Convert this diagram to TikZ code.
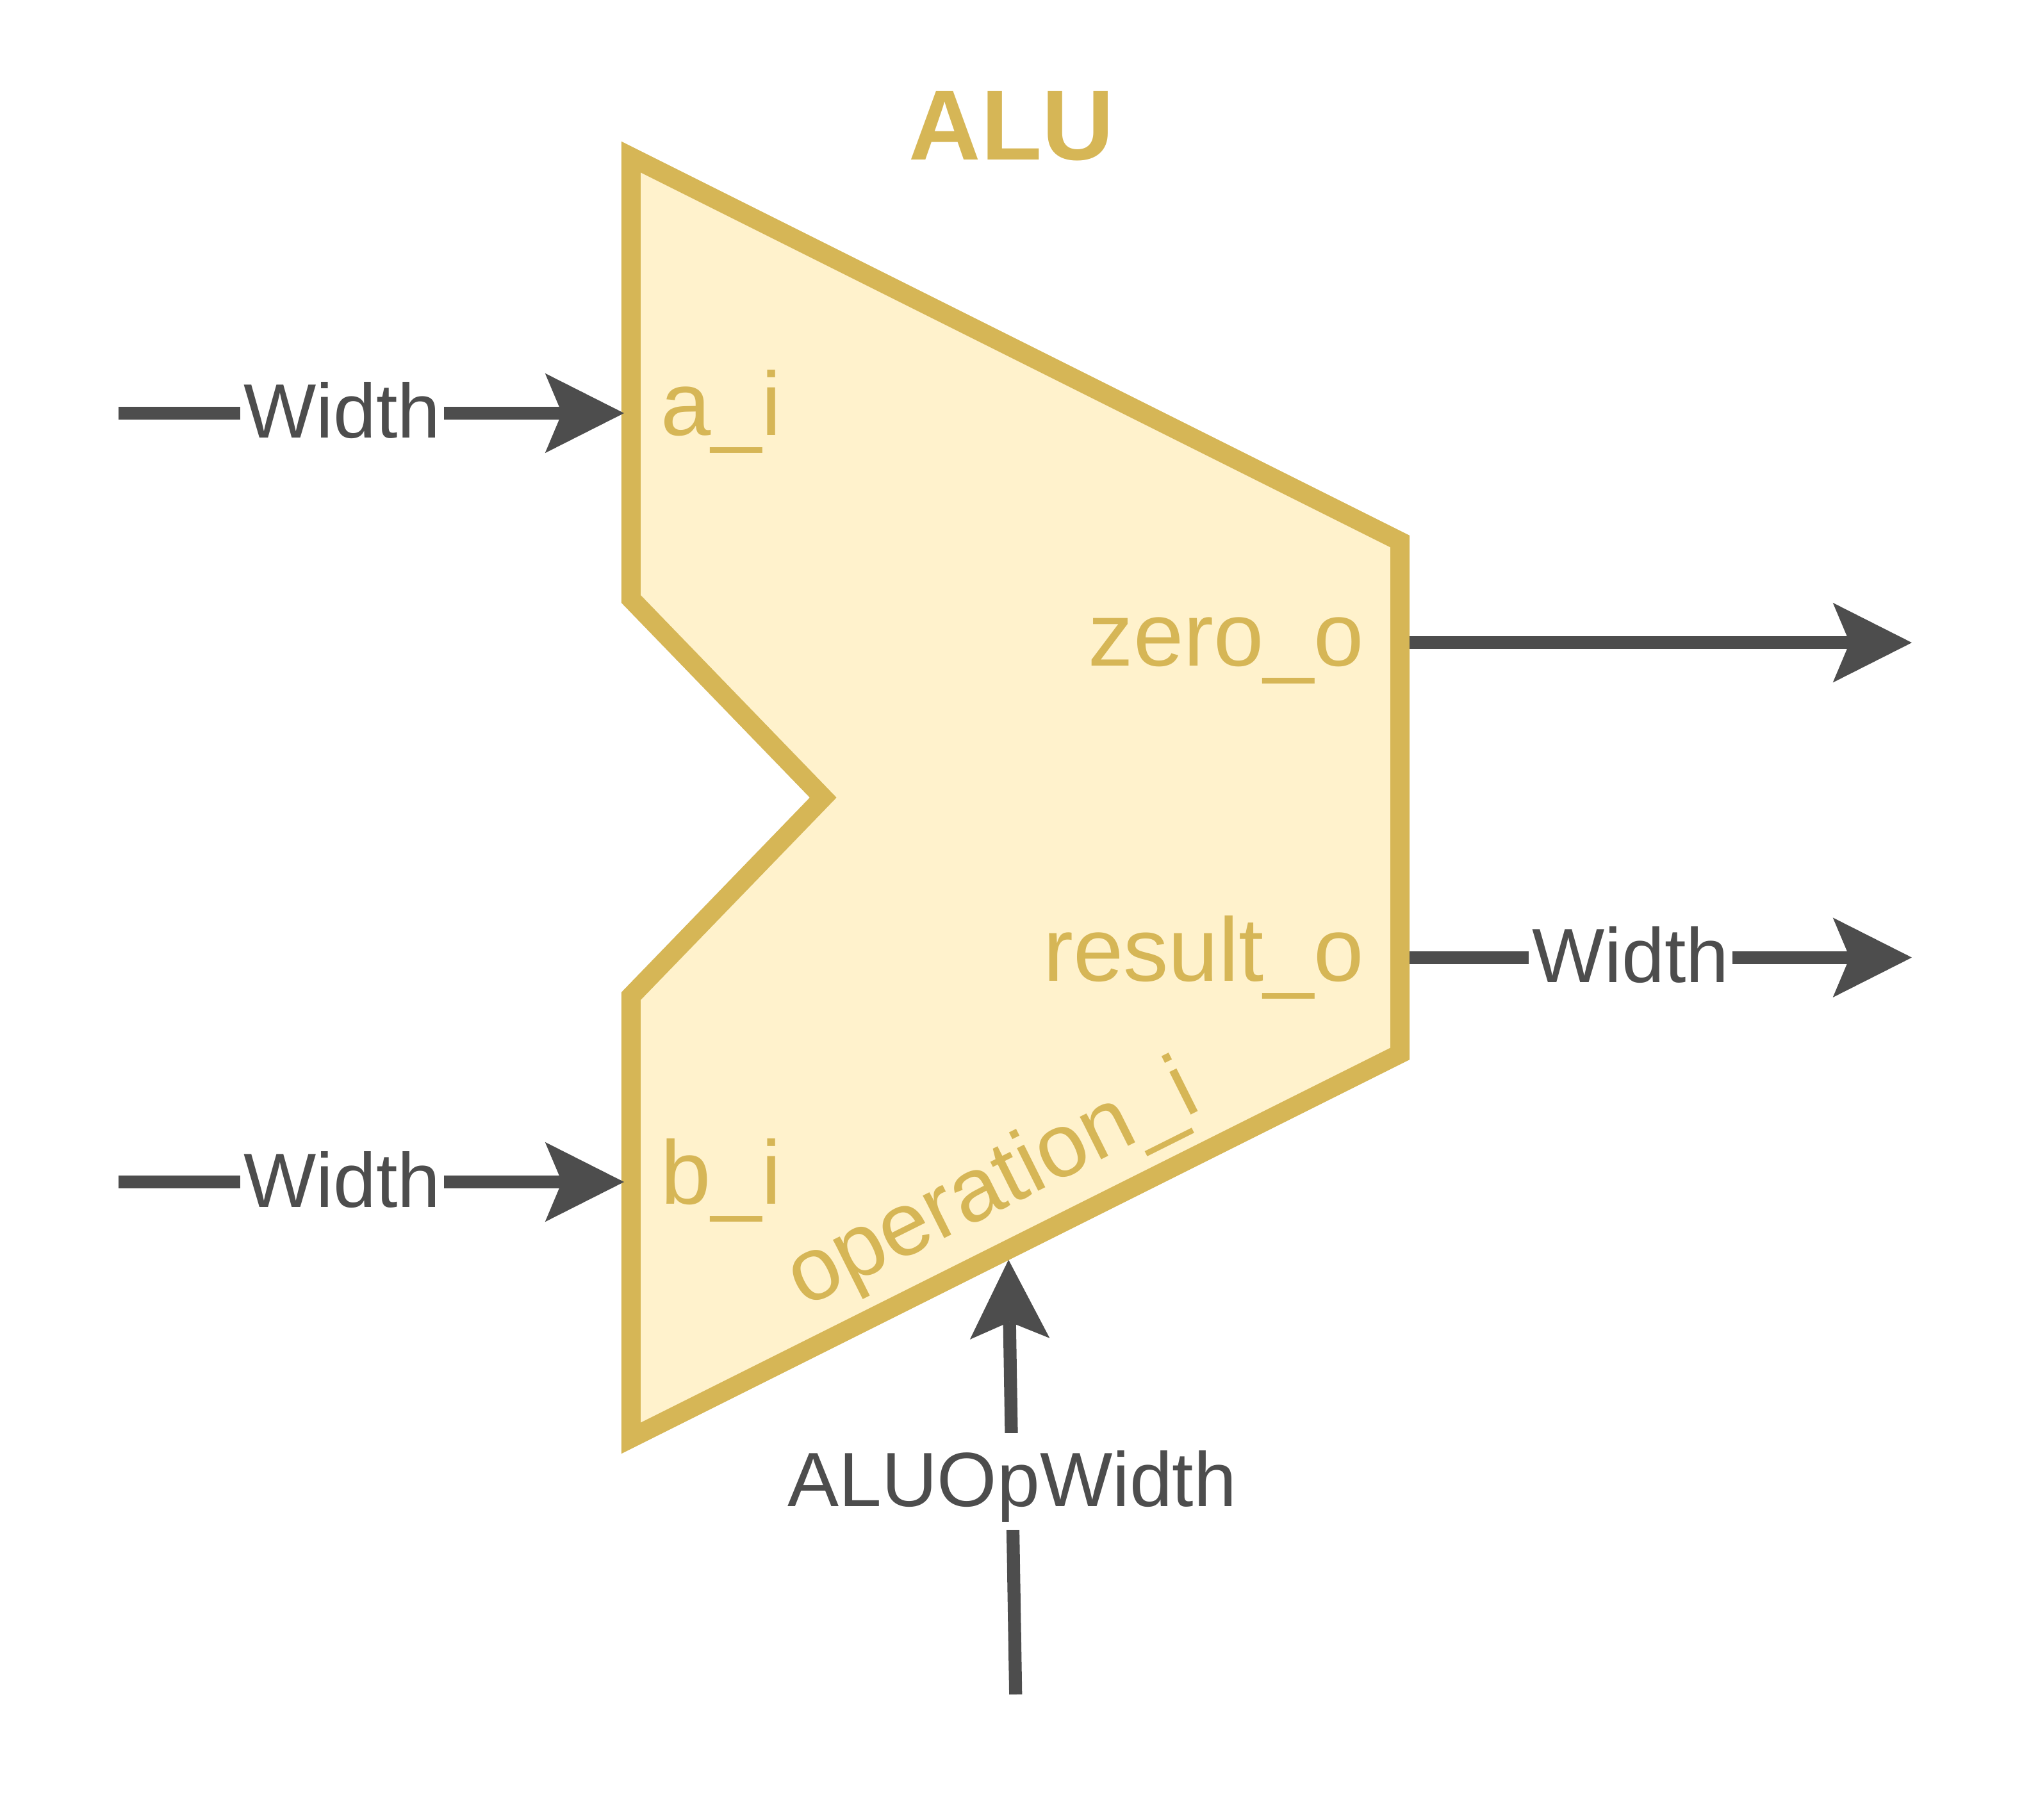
\documentclass[tikz,border=0pt]{standalone}
\usepackage{fontspec}
\setmainfont{Liberation Sans}
\usetikzlibrary{arrows.meta}
\definecolor{aluFill}{HTML}{FFF2CC}
\definecolor{aluLine}{HTML}{D6B656}
\definecolor{wireCol}{HTML}{4D4D4D}
\begin{document}
\begin{tikzpicture}[x=0.5pt,y=-0.5pt,
  wire/.style={draw=wireCol, line width=5pt,
    -{Stealth[length=30.5pt,width=30.8pt,inset=6.5pt,line width=0pt]}},
  wlabel/.style={fill=white, text=wireCol,
    font=\fontsize{29.7pt}{35pt}\selectfont,
    inner xsep=1.4pt, inner ysep=1.6pt, text height=26.7pt, text depth=7.4pt},
  port/.style={text=aluLine, font=\fontsize{34.8pt}{42pt}\selectfont, inner sep=0pt},
  alubody/.style={draw=aluLine, fill=aluFill, line width=7.42pt, miter limit=10},
]
\useasboundingbox (0,0) rectangle (1568,1405);

% ALU body
\draw[alubody] (487.2,121.2) -- (1080.8,418) -- (1080.8,813.6) -- (487.2,1110.4)
  -- (487.2,769.1) -- (635.5,615.8) -- (487.2,462.5) -- cycle;

% title
\node[text=aluLine, font=\fontsize{38.5pt}{46pt}\selectfont\bfseries, inner sep=0pt,
  anchor=base] (title) at (781,123.6) {ALU};

% port labels
\node[port, anchor=base west] (pa) at (510,336) {a\_i};
\node[port, anchor=base west] (pb) at (510,929.6) {b\_i};
\node[port, anchor=base east] (pz) at (1053.5,514.3) {zero\_o};
\node[port, anchor=base east] (pr) at (1053.5,757.3) {result\_o};
\node[port, anchor=base, rotate=26.57] (pop) at (775,933) {operation\_i};

% connector end points
\coordinate (aS) at (91.6,319);
\coordinate (aE) at (481.8,319);
\coordinate (bS) at (91.6,912.6);
\coordinate (bE) at (481.8,912.6);
\coordinate (zS) at (1088,496.2);
\coordinate (zE) at (1476,496.2);
\coordinate (rS) at (1088,739.3);
\coordinate (rE) at (1476,739.3);
\coordinate (oS) at (784.1,1308.3);
\coordinate (oE) at (778.6,972.7);

% connectors
\draw[wire] (aS) -- node[wlabel, pos=0.442] (la) {Width} (aE);
\draw[wire] (bS) -- node[wlabel, pos=0.442] (lb) {Width} (bE);
\draw[wire] (zS) -- (zE);
\draw[wire] (rS) -- node[wlabel, pos=0.44] (lr) {Width} (rE);
\draw[wire] (oS) -- node[wlabel, pos=0.49] (lo) {ALUOpWidth} (oE);
\end{tikzpicture}
\end{document}
